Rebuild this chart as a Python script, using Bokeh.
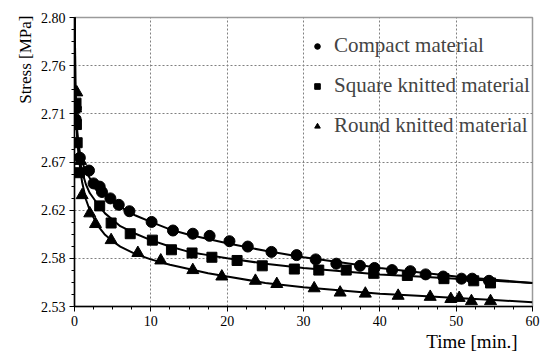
import numpy as np
from bokeh.plotting import figure
from bokeh.models import FixedTicker, Legend, LegendItem, Title
from bokeh.embed import file_html
from bokeh.resources import INLINE

# ---- data ----
compact_t = [0.15, 0.2, 0.7, 1.9, 2.5, 3.3, 3.6, 4.7, 5.8, 7.2, 10.1, 12.9, 15.5, 17.7, 20.3,
             22.7, 25.8, 29.1, 31.6, 34.3, 37.4, 39.3, 41.6, 44.0, 46.0, 48.3, 50.7, 52.1, 54.3]
compact_s = [2.705, 2.715, 2.669, 2.657, 2.645, 2.642, 2.637, 2.631, 2.625, 2.619, 2.609, 2.601,
             2.598, 2.596, 2.591, 2.586, 2.581, 2.578, 2.574, 2.570, 2.568, 2.566, 2.564, 2.563,
             2.560, 2.558, 2.556, 2.556, 2.554]

square_t = [0.2, 0.25, 0.35, 0.65, 3.3, 4.8, 7.3, 10.2, 12.7, 15.4, 18.0, 21.3, 24.6, 28.8,
            32.0, 35.6, 39.2, 43.6, 48.4, 52.3, 54.5]
square_s = [2.720, 2.700, 2.683, 2.655, 2.624, 2.608, 2.598, 2.592, 2.583, 2.580, 2.576, 2.573,
            2.568, 2.565, 2.564, 2.564, 2.561, 2.559, 2.556, 2.554, 2.552]

round_t = [0.3, 0.15, 0.8, 1.0, 2.0, 2.75, 4.8, 8.3, 11.3, 15.5, 19.3, 23.7, 26.5, 31.4, 34.8,
           38.1, 42.4, 46.6, 49.3, 50.4, 52.0, 54.5]
round_s = [2.730, 2.715, 2.666, 2.634, 2.617, 2.607, 2.592, 2.580, 2.573, 2.564, 2.558, 2.554,
           2.551, 2.547, 2.543, 2.542, 2.540, 2.539, 2.537, 2.538, 2.535, 2.535]

fit_t = [0, 0.1, 0.2, 0.35, 0.5, 0.75, 1, 1.5, 2, 3, 4, 5, 6, 8, 10, 12.5, 15, 17.5, 20,
         25, 30, 35, 40, 45, 50, 55, 60]
compact_fit = [2.85, 2.74, 2.715, 2.695, 2.683, 2.672, 2.665, 2.656, 2.650, 2.641, 2.634, 2.628,
               2.623, 2.615, 2.609, 2.602, 2.597, 2.593, 2.589, 2.582, 2.576, 2.571, 2.566,
               2.562, 2.558, 2.555, 2.552]
square_fit = [2.85, 2.73, 2.705, 2.688, 2.677, 2.665, 2.656, 2.644, 2.636, 2.626, 2.617, 2.611,
              2.605, 2.598, 2.592, 2.586, 2.581, 2.578, 2.575, 2.570, 2.566, 2.563, 2.560,
              2.558, 2.556, 2.554, 2.552]
round_fit = [2.85, 2.74, 2.71, 2.69, 2.675, 2.658, 2.646, 2.630, 2.620, 2.606, 2.597, 2.591,
             2.586, 2.579, 2.574, 2.569, 2.565, 2.561, 2.558, 2.552, 2.548, 2.545, 2.542,
             2.540, 2.538, 2.536, 2.534]

series_names = ["Compact material", "Square knitted material", "Round knitted material"]

x_ticks = [0, 10, 20, 30, 40, 50, 60]
y_ticks = [2.53, 2.575, 2.62, 2.665, 2.71, 2.755, 2.80]
y_tick_labels = ["2.53", "2.58", "2.62", "2.67", "2.71", "2.76", "2.80"]

FONT = "Liberation Serif"

p = figure(width=542, height=351, x_range=(0, 60), y_range=(2.53, 2.80),
           output_backend="svg", toolbar_location=None,
           min_border_left=74, min_border_right=10, min_border_top=17, min_border_bottom=45)
p.outline_line_color = "#9a9a9a"
p.outline_line_width = 1.5

# axes
p.xaxis.ticker = FixedTicker(ticks=x_ticks, minor_ticks=list(np.arange(0, 60.01, 2.5)))
p.yaxis.ticker = FixedTicker(ticks=y_ticks, minor_ticks=list(np.arange(2.53, 2.8001, 0.01125)))
p.yaxis.major_label_overrides = {t: l for t, l in zip(y_ticks, y_tick_labels)}
for ax in (p.xaxis[0], p.yaxis[0]):
    ax.axis_line_color = "black"
    ax.axis_line_width = 1.5
    ax.major_tick_line_color = "black"
    ax.minor_tick_line_color = "black"
    ax.major_tick_out = 5
    ax.major_tick_in = 0
    ax.minor_tick_out = 3
    ax.minor_tick_in = 0
    ax.major_label_text_font = FONT
    ax.major_label_text_font_size = "14px"
    ax.major_label_text_color = "black"
    ax.major_label_standoff = 4

# grid
p.xgrid.ticker = FixedTicker(ticks=x_ticks[1:-1])
p.ygrid.ticker = FixedTicker(ticks=y_ticks[1:-1])
for g in (p.xgrid[0], p.ygrid[0]):
    g.grid_line_color = "#808080"
    g.grid_line_dash = "2 2"
    g.grid_line_width = 1

# fit curves
for fit in (compact_fit, square_fit, round_fit):
    p.line(fit_t, fit, line_color="black", line_width=2)

r1 = p.scatter(compact_t, compact_s, marker="circle", size=11, color="black")
r2 = p.scatter(square_t, square_s, marker="square", size=10, color="black")
r3 = p.scatter(round_t, round_s, marker="triangle", size=12, color="black")

legend = Legend(items=[LegendItem(label=series_names[0], renderers=[r1]),
                       LegendItem(label=series_names[1], renderers=[r2]),
                       LegendItem(label=series_names[2], renderers=[r3])],
                location=(236, 168), border_line_color=None, background_fill_alpha=0,
                label_text_font=FONT, label_text_font_size="21px",
                glyph_width=14, glyph_height=20, label_height=20, label_standoff=10,
                spacing=15, padding=4, margin=0)
p.add_layout(legend)

ytitle = Title(text="Stress [MPa]", align="right", text_font=FONT, text_font_size="17px",
               text_font_style="normal", text_color="black", standoff=5, offset=-2)
xtitle = Title(text="Time [min.]", align="right", text_font=FONT, text_font_size="19px",
               text_font_style="normal", text_color="black", standoff=0, offset=15)
p.add_layout(ytitle, "left")
p.add_layout(xtitle, "below")

open("out.html", "w").write(file_html(p, INLINE))
